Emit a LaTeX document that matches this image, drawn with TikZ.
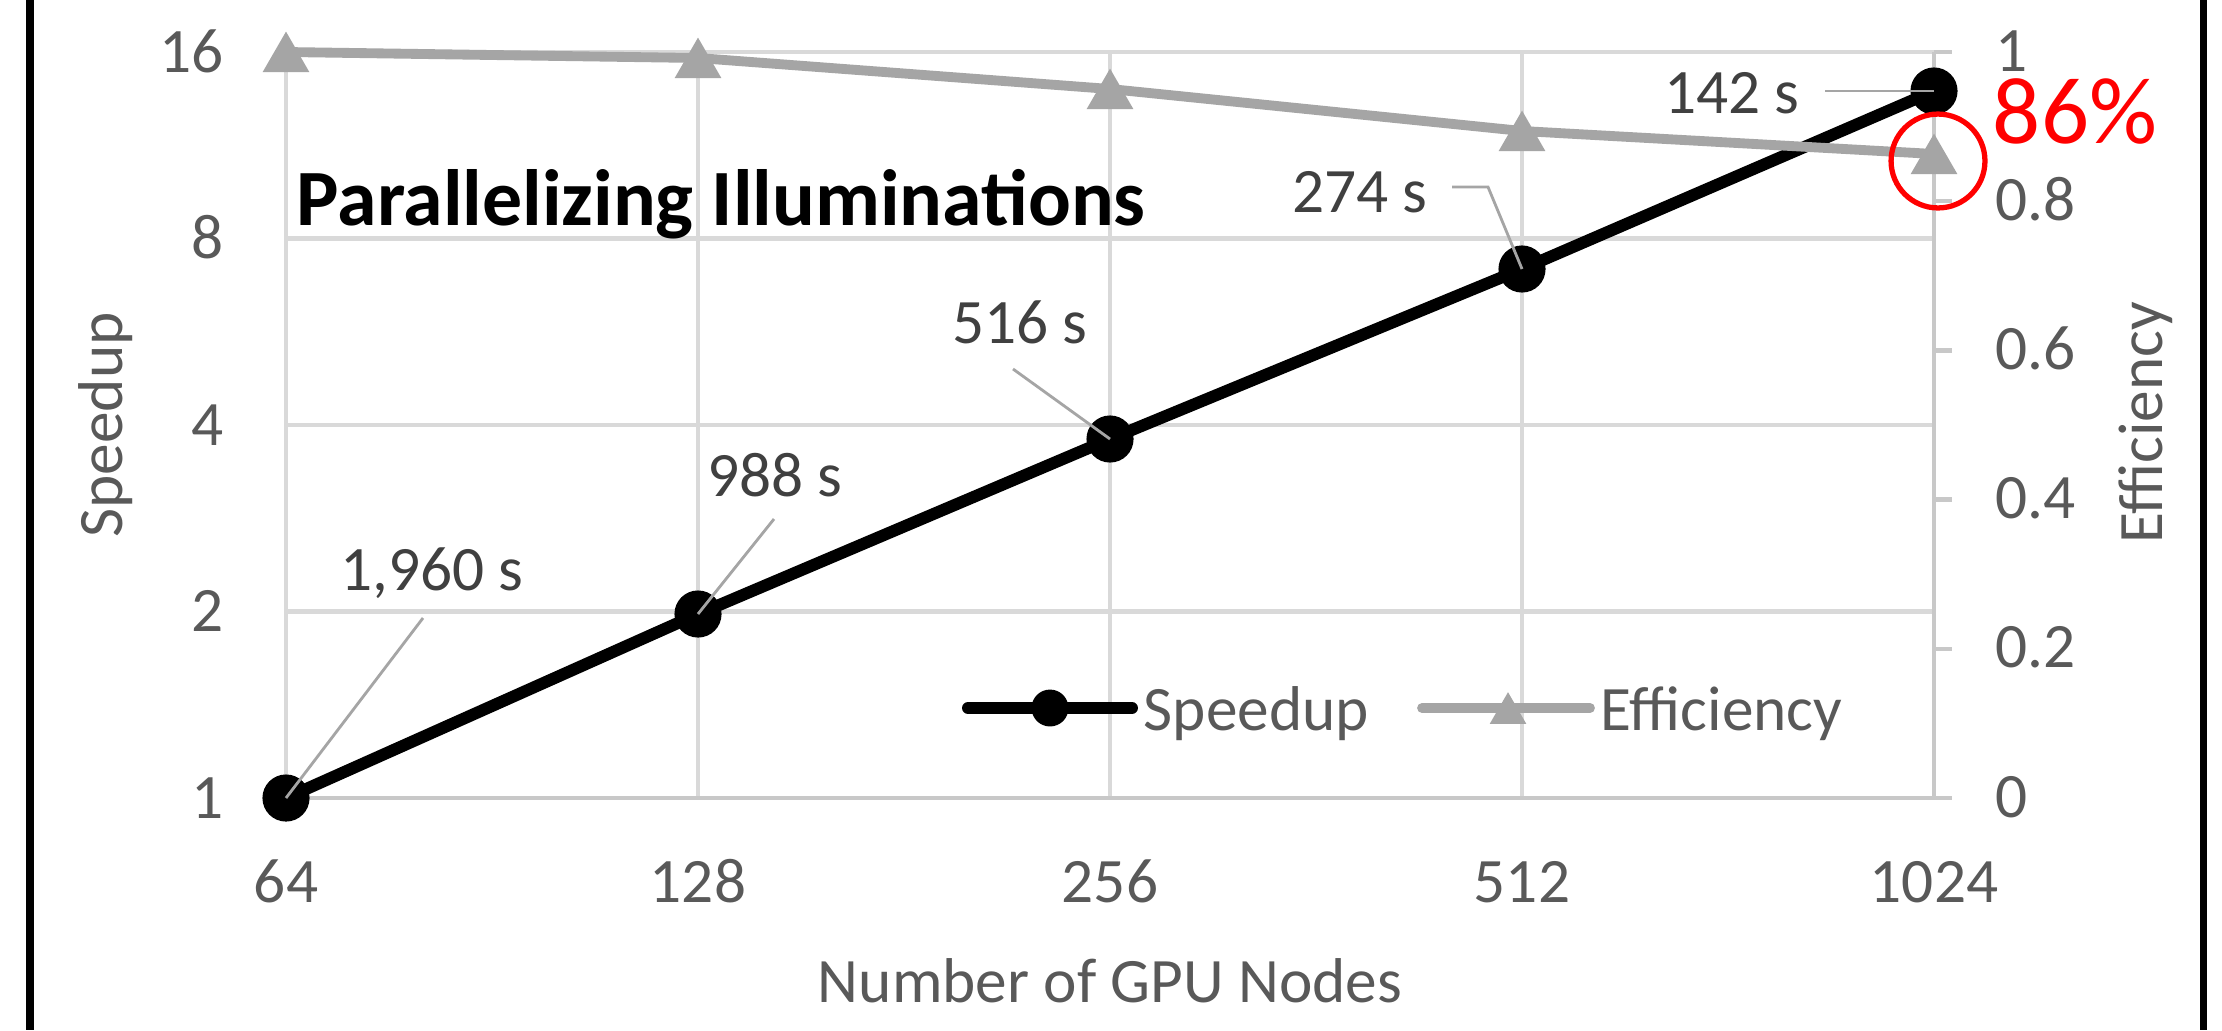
\documentclass[tikz,border=0pt]{standalone}
\usepackage{fontspec}
\setmainfont{Carlito}
\usetikzlibrary{positioning,shapes.geometric}
\definecolor{gridc}{RGB}{217,217,217}
\definecolor{axisc}{RGB}{200,200,200}
\definecolor{effc}{RGB}{165,165,165}
\definecolor{tickc}{RGB}{89,89,89}
\definecolor{datc}{RGB}{64,64,64}
\definecolor{hired}{RGB}{255,0,0}
\newcommand{\chsz}[1]{\fontsize{#1}{#1}\selectfont}
\tikzset{
  grd/.style={gridc, line width=1.3pt},
  axl/.style={axisc, line width=1.3pt},
  spd/.style={black, line width=3.4pt, line join=round},
  eff/.style={effc, line width=2.8pt, line join=round},
  dotm/.style={circle, fill=black, inner sep=0pt, minimum size=13.4pt},
  trim/.style={regular polygon, regular polygon sides=3, fill=effc, inner sep=0pt,
               minimum size=15.4pt, yshift=-1.9pt},
  ldr/.style={effc, line width=0.8pt},
  tck/.style={font={\chsz{18}}, text=tickc, inner sep=0pt},
  dlab/.style={font={\chsz{18}}, text=datc, inner sep=0pt, anchor=base},
  atitle/.style={font={\chsz{18}}, text=tickc, inner sep=0pt, anchor=base},
  bdr/.style={black, line width=2pt},
}

\begin{document}
\begin{tikzpicture}[x=0.01cm, y=-0.01cm]
    \useasboundingbox (0,0) rectangle (2222,1030);
    \fill[white] (0,0) rectangle (2222,1030);
    \draw[bdr] (30,0) -- (30,1030);
    \draw[bdr] (2203,0) -- (2203,1030);
    % grid and axes
    \foreach \y in {52,238.5,425,611.5} \draw[grd] (286,\y) -- (1934,\y);
    \foreach \x in {286,698,1110,1522} \draw[grd] (\x,52) -- (\x,798);
    \draw[axl] (286,798) -- (1952,798);
    \draw[axl] (1934,52) -- (1934,798);
    \foreach \y in {52,201.2,350.4,499.6,648.8} \draw[axl] (1934,\y) -- (1952,\y);
    % tick labels
    \foreach \v/\y in {1/798, 2/611.5, 4/425, 8/238.5, 16/52}
      \node[tck, anchor=base east] (yl\v) at (224,\y+20) {\v};
    \foreach \e/\y [count=\i] in {0/798, 0.2/648.8, 0.4/499.6, 0.6/350.4, 0.8/201.2, 1/52}
      \node[tck, anchor=base west] (yr\i) at (1995,\y+19) {\e};
    \foreach \n/\x in {64/286, 128/698, 256/1110, 512/1522, 1024/1934}
      \node[tck, anchor=base] (xt\n) at (\x,902) {\n};
    \node[atitle, rotate=90] (ylab) at (122,425) {Speedup};
    \node[atitle, rotate=90] (yrlab) at (2162,423) {Efficiency};
    \node[atitle] (xlab) at (1110,1002) {Number of GPU Nodes};
    % data points
    \coordinate (s1) at (286,798);  \coordinate (e1) at (286,52);
    \coordinate (s2) at (698,614);  \coordinate (e2) at (698,58);
    \coordinate (s3) at (1110,439); \coordinate (e3) at (1110,89);
    \coordinate (s4) at (1522,269); \coordinate (e4) at (1522,131);
    \coordinate (s5) at (1934,91);  \coordinate (e5) at (1934,154);
    \draw[spd] (s1) -- (s2) -- (s3) -- (s4) -- (s5);
    \foreach \i in {1,...,5} \node[dotm] (ms\i) at (s\i) {};
    \draw[eff] (e1) -- (e2) -- (e3) -- (e4) -- (e5);
    \foreach \i in {1,...,5} \node[trim] (me\i) at (e\i) {};
    % leaders and time labels
    \coordinate (k1) at (423,618);
    \coordinate (k2) at (774,519);
    \coordinate (k3) at (1013,369);
    \coordinate (k4) at (1452,187);
    \coordinate (k5) at (1825,91);
    \draw[ldr] (k1) -- (s1);
    \draw[ldr] (k2) -- (s2);
    \draw[ldr] (k3) -- (s3);
    \draw[ldr] (k4) -- ++(36,0) -- (s4);
    \draw[ldr] (k5) -- (s5);
    \node[dlab] (t1) at (432,590) {1,960 s};
    \node[dlab] (t2) at (775,496) {988 s};
    \node[dlab] (t3) at (1020,343) {516 s};
    \node[dlab] (t4) at (1360,212) {274 s};
    \node[dlab] (t5) at (1732,113) {142 s};
    % legend
    \coordinate (lga) at (968,708);  \coordinate (lgb) at (1132,708);
    \coordinate (lgc) at (1422,708); \coordinate (lgd) at (1590,708);
    \draw[spd, line cap=round] (lga) -- (lgb);
    \node[dotm, minimum size=10.5pt] (lgm1) at (1050,708) {};
    \node[tck, anchor=base west] (lgt1) at (1143,730) {Speedup};
    \draw[eff, line cap=round] (lgc) -- (lgd);
    \node[trim, minimum size=12pt, yshift=0.4pt] (lgm2) at (1508,708) {};
    \node[tck, anchor=base west] (lgt2) at (1600,730) {Efficiency};
    % title and highlight
    \node[font={\bfseries\chsz{22.7}}, anchor=base, inner sep=0pt] (ttl) at (721,225) {Parallelizing Illuminations};
    \node[circle, draw=hired, line width=1.5pt, minimum size=26.7pt, inner sep=0pt] (hl) at (1938,161) {};
    \node[font={\chsz{27}}, text=hired, anchor=base, inner sep=0pt] (pct) at (2075,143) {86\%};
\end{tikzpicture}
\end{document}
